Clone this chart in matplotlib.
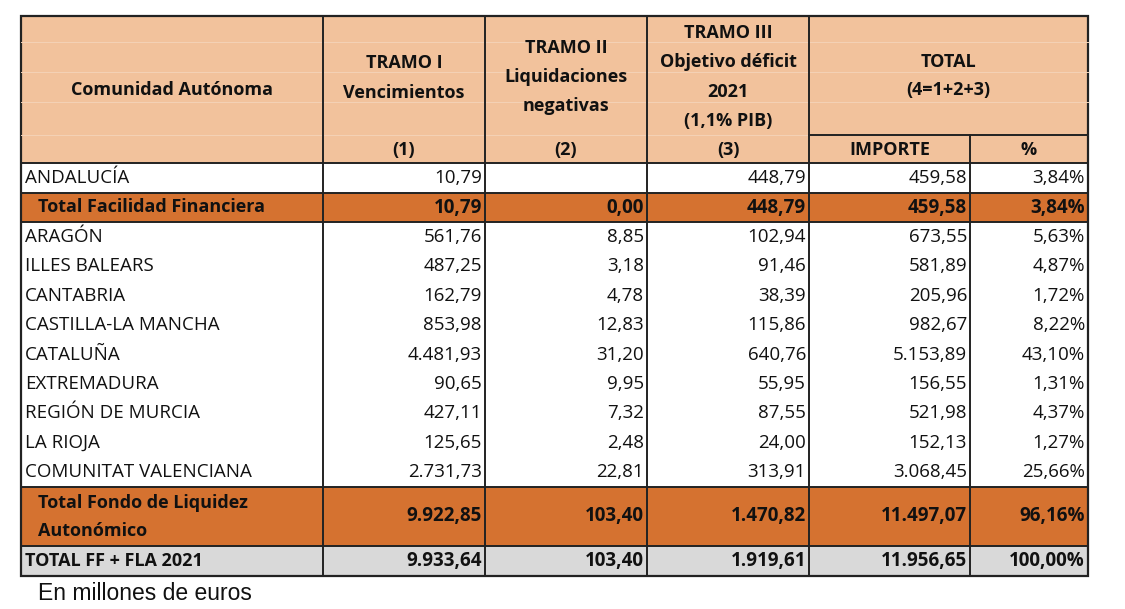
import matplotlib.pyplot as plt
from matplotlib.patches import Rectangle

# data
comunidades = ["ANDALUCÍA", "Total Facilidad Financiera", "ARAGÓN", "ILLES BALEARS",
               "CANTABRIA", "CASTILLA-LA MANCHA", "CATALUÑA", "EXTREMADURA",
               "REGIÓN DE MURCIA", "LA RIOJA", "COMUNITAT VALENCIANA",
               "Total Fondo de Liquidez\nAutonómico", "TOTAL FF + FLA 2021"]
tramo1 = [10.79, 10.79, 561.76, 487.25, 162.79, 853.98, 4481.93, 90.65, 427.11,
          125.65, 2731.73, 9922.85, 9933.64]
tramo2 = [None, 0.00, 8.85, 3.18, 4.78, 12.83, 31.20, 9.95, 7.32, 2.48, 22.81,
          103.40, 103.40]
tramo3 = [448.79, 448.79, 102.94, 91.46, 38.39, 115.86, 640.76, 55.95, 87.55,
          24.00, 313.91, 1470.82, 1919.61]
importe = [459.58, 459.58, 673.55, 581.89, 205.96, 982.67, 5153.89, 156.55,
           521.98, 152.13, 3068.45, 11497.07, 11956.65]
pct = [3.84, 3.84, 5.63, 4.87, 1.72, 8.22, 43.10, 1.31, 4.37, 1.27, 25.66,
       96.16, 100.00]
row_kind = ["normal", "orange", "normal", "normal", "normal", "normal", "normal",
            "normal", "normal", "normal", "normal", "orange", "grey"]


def fmt(v, dec=2):
    if v is None:
        return ""
    s = f"{v:,.{dec}f}"
    return s.replace(",", "X").replace(".", ",").replace("X", ".")


PEACH = "#F2C29C"
ORANGE = "#D57230"
GREY = "#D9D9D9"
FONT = "Open Sans"
FS = 13.5      # body
FH = 13        # header
TXT = "#111111"

fig = plt.figure(figsize=(11.25, 6.09), dpi=100)
ax = fig.add_axes([0, 0, 1, 1])
ax.set_xlim(0, 1125)
ax.set_ylim(609, 0)
ax.axis("off")

cols = [21, 323, 485, 647, 809, 970, 1088]
top, head_split, head_bot = 16, 135, 163
row_tops = [163, 193, 222] + [222 + (487 - 222) / 9 * i for i in range(1, 9)] + [487, 546]
row_bots = row_tops[1:] + [576]

# header background
ax.add_patch(Rectangle((cols[0], top), cols[-1] - cols[0], head_bot - top,
                       facecolor=PEACH, edgecolor="none"))
# faint excel gridlines in header
for yy in [42, 72, 102, 135]:
    ax.plot([cols[0], cols[-1]], [yy, yy], color="#F5D2B6", lw=0.7)

# row backgrounds
for i, kind in enumerate(row_kind):
    if kind == "orange":
        fc = ORANGE
    elif kind == "grey":
        fc = GREY
    else:
        fc = "white"
    ax.add_patch(Rectangle((cols[0], row_tops[i]), cols[-1] - cols[0],
                           row_bots[i] - row_tops[i], facecolor=fc, edgecolor="none"))

# header text
hy = {
    0: [("Comunidad Autónoma", 90)],
    1: [("TRAMO I", 63), ("Vencimientos", 93), ("(1)", 150)],
    2: [("TRAMO II", 48), ("Liquidaciones", 77), ("negativas", 106), ("(2)", 150)],
    3: [("TRAMO III", 33), ("Objetivo déficit", 62), ("2021", 92), ("(1,1% PIB)", 121),
        ("(3)", 150)],
}
for c, items in hy.items():
    xc = (cols[c] + cols[c + 1]) / 2
    for txt, yy in items:
        ax.text(xc, yy, txt, ha="center", va="center", fontsize=FH,
                fontweight="bold", family=FONT, color=TXT)
xc = (cols[4] + cols[6]) / 2
ax.text(xc, 62, "TOTAL", ha="center", va="center", fontsize=FH, fontweight="bold",
        family=FONT, color=TXT)
ax.text(xc, 90, "(4=1+2+3)", ha="center", va="center", fontsize=FH,
        fontweight="bold", family=FONT, color=TXT)
ax.text((cols[4] + cols[5]) / 2, 150, "IMPORTE", ha="center", va="center",
        fontsize=FH, fontweight="bold", family=FONT, color=TXT)
ax.text((cols[5] + cols[6]) / 2, 150, "%", ha="center", va="center",
        fontsize=FH, fontweight="bold", family=FONT, color=TXT)

# body text
for i, name in enumerate(comunidades):
    ym = (row_tops[i] + row_bots[i]) / 2
    bold = row_kind[i] != "normal"
    fw = "bold" if bold else "normal"
    if row_kind[i] == "orange":
        xl = 38
        if "\n" in name:
            l1, l2 = name.split("\n")
            ax.text(xl, ym - 14, l1, ha="left", va="center", fontsize=FH,
                    fontweight=fw, family=FONT, color=TXT)
            ax.text(xl, ym + 15, l2, ha="left", va="center", fontsize=FH,
                    fontweight=fw, family=FONT, color=TXT)
        else:
            ax.text(xl, ym, name, ha="left", va="center", fontsize=FH,
                    fontweight=fw, family=FONT, color=TXT)
    else:
        ax.text(25, ym, name, ha="left", va="center", fontsize=FH if bold else FS,
                fontweight=fw, family=FONT, color=TXT)
    vals = [fmt(tramo1[i]), fmt(tramo2[i]), fmt(tramo3[i]), fmt(importe[i]),
            fmt(pct[i]) + "%"]
    for c, s in enumerate(vals):
        ax.text(cols[c + 2] - 3, ym, s, ha="right", va="center", fontsize=FS,
                fontweight=fw, family=FONT, color=TXT)

# lines
lk = dict(color="#222222", lw=1.4)
for x in cols[1:5]:
    ax.plot([x, x], [top, 576], **lk)
ax.plot([cols[5], cols[5]], [head_split, 576], **lk)
ax.plot([cols[4], cols[6]], [head_split, head_split], **lk)
for yy in [163, 193, 222, 487, 546]:
    ax.plot([cols[0], cols[6]], [yy, yy], **lk)
ax.add_patch(Rectangle((cols[0], top), cols[-1] - cols[0], 576 - top,
                       facecolor="none", edgecolor="#222222", lw=1.6))

ax.text(38, 594, "En millones de euros", ha="left", va="center", fontsize=16.5,
        family="Liberation Sans", color=TXT)

fig.savefig("out.png", dpi=100)
